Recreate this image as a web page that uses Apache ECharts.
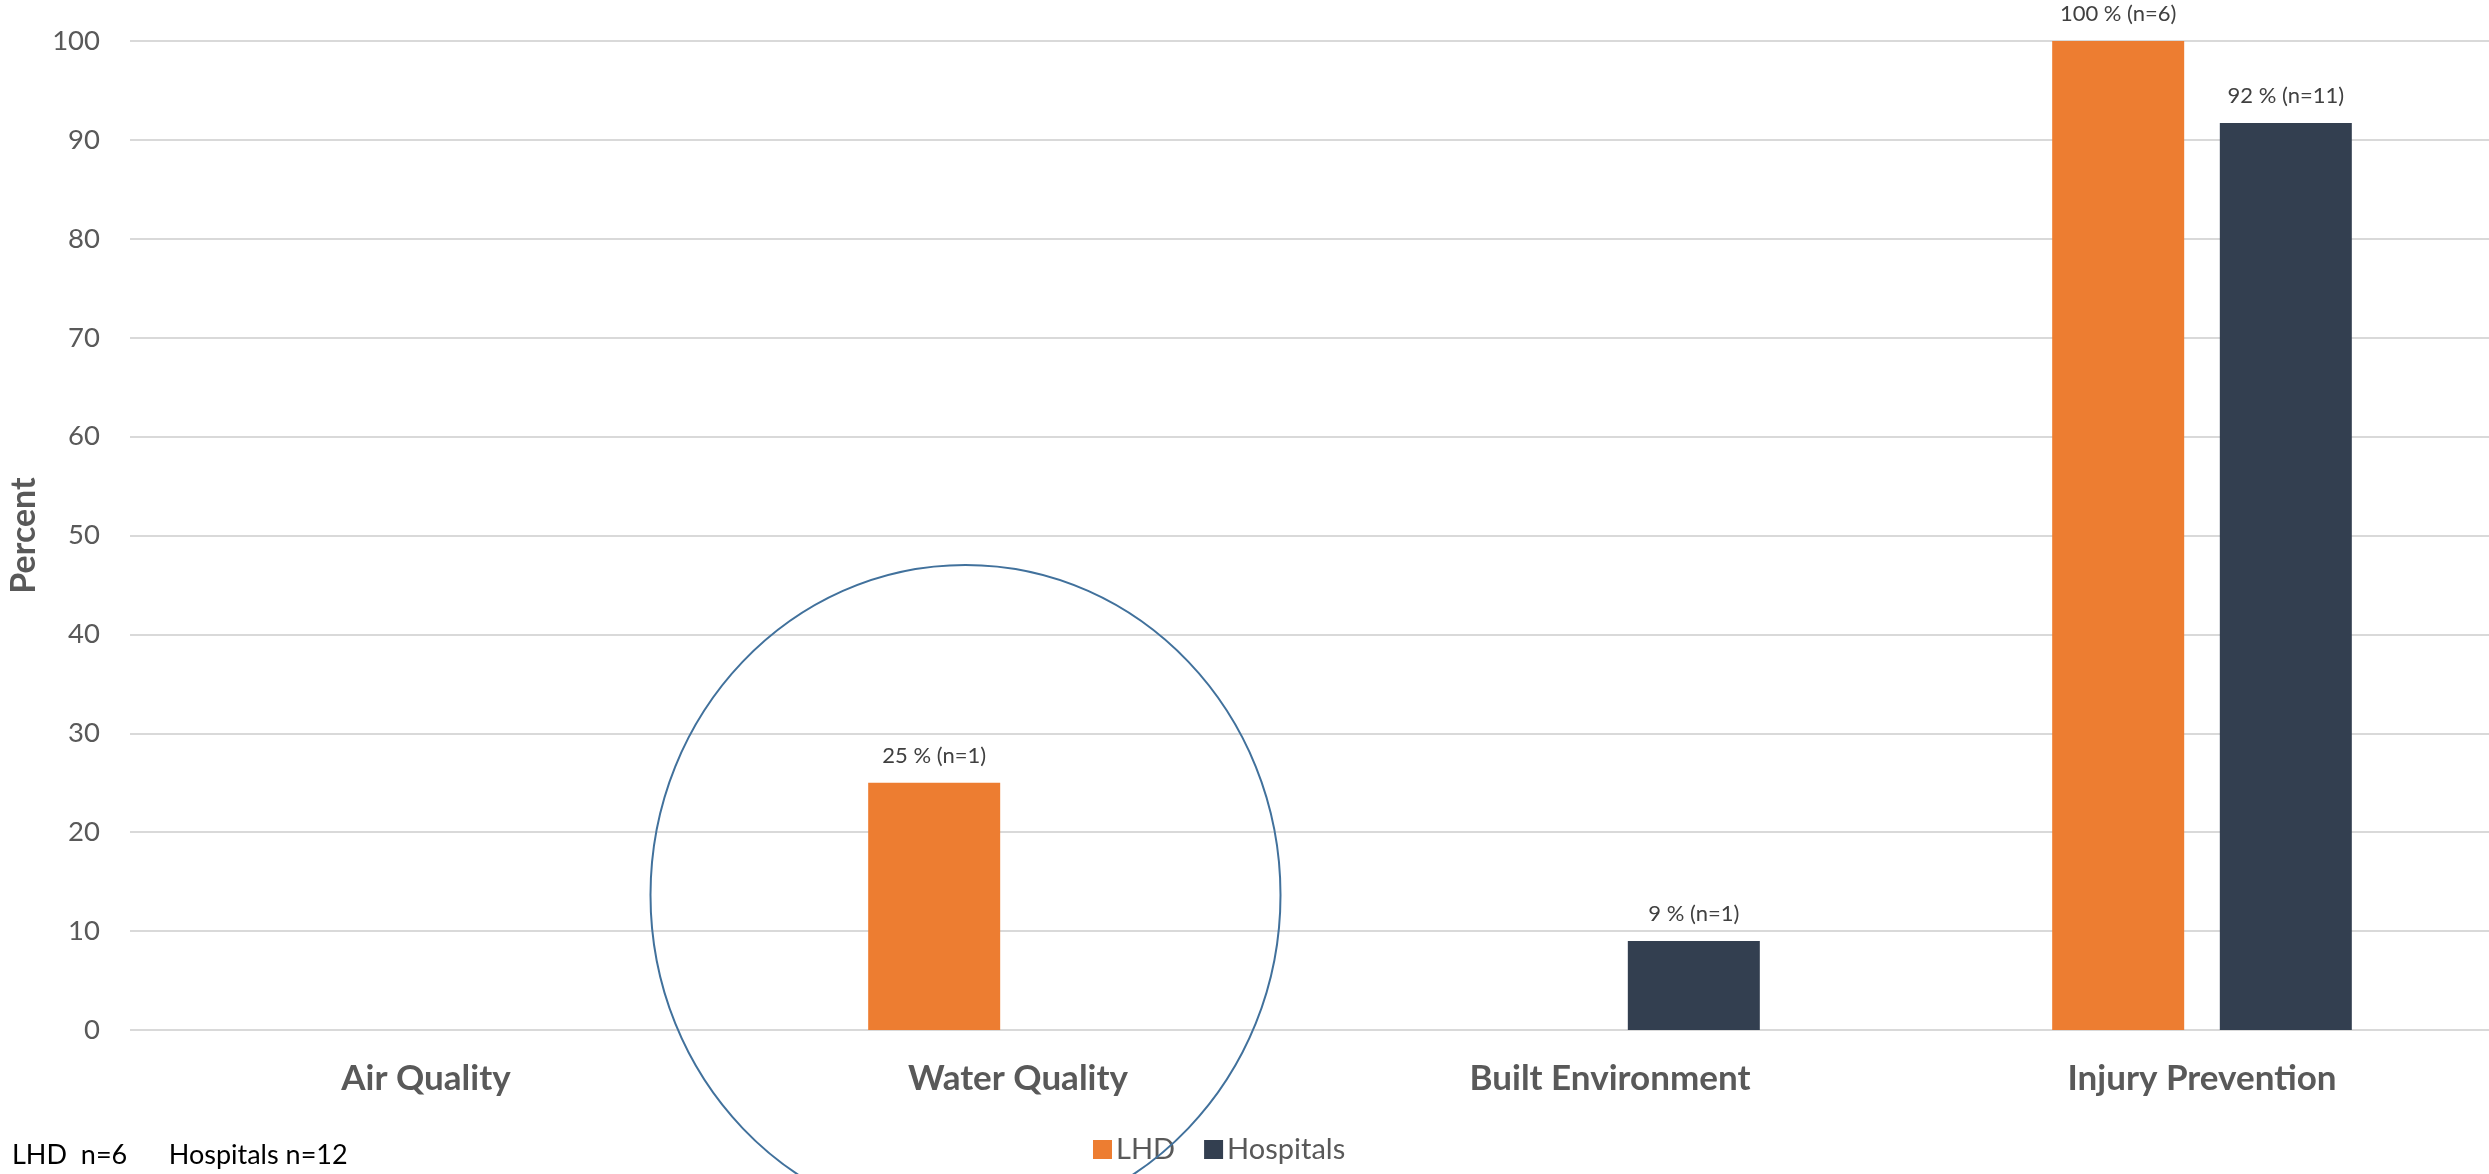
<!DOCTYPE html>
<html>
<head>
<meta charset="utf-8">
<script src="https://cdn.jsdelivr.net/npm/echarts@6/dist/echarts.min.js"></script>
<style>
html,body{margin:0;padding:0;background:#fff;}
#chart{width:2489px;height:1174px;}
</style>
</head>
<body>
<div id="chart"></div>
<script>
const categories = ['Air Quality', 'Water Quality', 'Built Environment', 'Injury Prevention'];
const lhdValues = [0, 25, 0, 100];
const hospitalValues = [0, 0, 9, 91.7];
const lhdLabels = ['', '25 % (n=1)', '', '100 % (n=6)'];
const hospitalLabels = ['', '', '9 % (n=1)', '92 % (n=11)'];
const yTicks = [0, 10, 20, 30, 40, 50, 60, 70, 80, 90, 100];
const seriesNames = ['LHD', 'Hospitals'];
const footnote = 'LHD  n=6      Hospitals n=12';

const FONT = 'Lato, "Open Sans", sans-serif';
const chart = echarts.init(document.getElementById('chart'), null, {renderer: 'canvas'});

const labelStyle = (arr) => ({
  show: true,
  position: 'top',
  distance: 16,
  fontFamily: FONT,
  fontSize: 22,
  color: '#404040',
  formatter: p => arr[p.dataIndex] || ''
});

chart.setOption({
  animation: false,
  backgroundColor: '#ffffff',
  grid: {left: 130, width: 2368, top: 41, bottom: 144, containLabel: false, outerBoundsMode: 'none'},
  legend: {
    data: seriesNames,
    left: 1088,
    top: 1130,
    itemWidth: 19,
    itemHeight: 19,
    itemGap: 29,
    icon: 'rect',
    textStyle: {fontFamily: FONT, fontSize: 29, color: '#595959', padding: [0, 0, 0, -1]}
  },
  xAxis: {
    type: 'category',
    data: categories,
    axisLine: {show: false},
    axisTick: {show: false},
    axisLabel: {
      fontFamily: FONT, fontWeight: 'bold', fontSize: 35, color: '#595959', margin: 31
    }
  },
  yAxis: {
    type: 'value',
    min: yTicks[0],
    max: yTicks[yTicks.length - 1],
    interval: 10,
    name: 'Percent',
    nameLocation: 'middle',
    nameGap: 89,
    nameTextStyle: {fontFamily: FONT, fontWeight: 'bold', fontSize: 34, color: '#595959'},
    axisLine: {show: false},
    axisTick: {show: false},
    axisLabel: {fontFamily: FONT, fontSize: 27.5, color: '#595959', margin: 30},
    splitLine: {lineStyle: {color: '#d9d9d9', width: 2}}
  },
  series: [
    {
      name: seriesNames[0],
      type: 'bar',
      data: lhdValues,
      barWidth: 132,
      barGap: '27%',
      itemStyle: {color: '#ED7D31'},
      label: labelStyle(lhdLabels)
    },
    {
      name: seriesNames[1],
      type: 'bar',
      data: hospitalValues,
      barWidth: 132,
      barGap: '27%',
      itemStyle: {color: '#333F50'},
      label: labelStyle(hospitalLabels)
    }
  ],
  graphic: [
    {
      type: 'ellipse',
      shape: {cx: 965.5, cy: 895, rx: 315, ry: 330},
      style: {fill: 'none', stroke: '#41719C', lineWidth: 2},
      z: 100
    },
    {
      type: 'text',
      left: 12,
      top: 1142,
      style: {text: footnote, fontFamily: FONT, fontSize: 27, fill: '#000000'}
    }
  ]
});
</script>
</body>
</html>
